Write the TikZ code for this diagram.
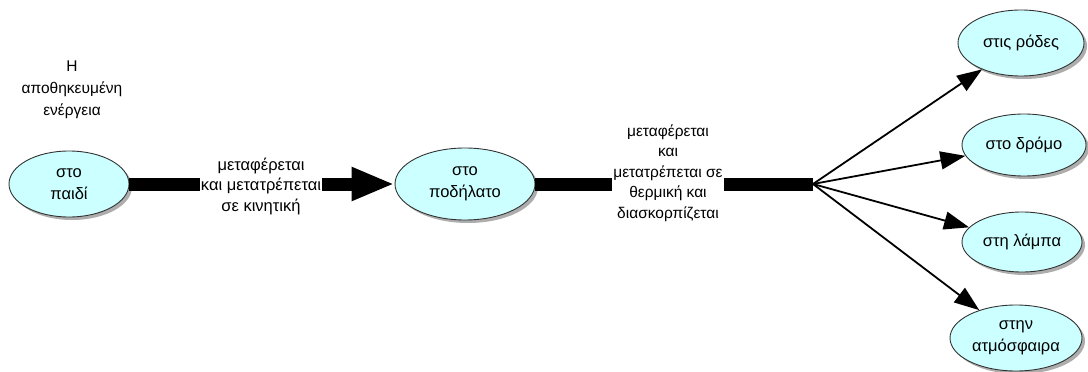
\documentclass[tikz,border=0pt]{standalone}
\usepackage{fontspec}
\setmainfont{Liberation Sans}
\usetikzlibrary{shapes.geometric,arrows.meta,shadows}
\definecolor{ellfill}{HTML}{CCFFFF}
\definecolor{ellline}{HTML}{333333}
\begin{document}
\begin{tikzpicture}[x=1pt,y=-1pt,
  ell/.style={ellipse,draw=ellline,line width=0.9pt,fill=ellfill,inner sep=0pt,
    align=center,font=\fontsize{16.5}{22}\selectfont,
    drop shadow={shadow xshift=3pt,shadow yshift=-3pt,fill=black!40,opacity=0.8}},
  lbl/.style={fill=white,inner sep=1pt,align=center,font=\fontsize{15.5}{20.5}\selectfont},
  bar/.style={line width=13pt},
  thin/.style={line width=1.8pt,-{Triangle[length=25pt,width=18pt]}}]
\useasboundingbox (0,0) rectangle (1088,372);
\node (note) at (72,90) [align=center,font=\fontsize{15.5}{22}\selectfont] {Η\\αποθηκευμένη\\ενέργεια};
\node[ell,minimum width=120pt,minimum height=66pt] (paidi) at (69,184) {στο\\παιδί};
\node[ell,minimum width=140pt,minimum height=72pt] (podilato) at (465,184) {στο\\ποδήλατο};
\node[ell,minimum width=126pt,minimum height=66pt] (rodes) at (1021,43) {στις ρόδες};
\node[ell,minimum width=124pt,minimum height=62pt] (dromo) at (1024,145) {στο δρόμο};
\node[ell,minimum width=120pt,minimum height=60pt] (lampa) at (1022,242) {στη λάμπα};
\node[ell,minimum width=132pt,minimum height=66pt] (atmo) at (1016,338) {στην\\ατμόσφαιρα};
\coordinate (junc) at (813,184);
\draw[bar,-{Triangle[length=43pt,width=31pt]}] (paidi) -- (podilato);
\draw[bar] (podilato.east) -- (junc);
\node[lbl,font=\fontsize{16.5}{20.5}\selectfont] (l1) at (261,186) {μεταφέρεται\\και μετατρέπεται\\σε κινητική};
\node[lbl] (l2) at (668,173) {μεταφέρεται\\και\\μετατρέπεται σε\\θερμική και\\διασκορπίζεται};
\draw[thin] (junc) -- (rodes);
\draw[thin] (junc) -- (dromo);
\draw[thin] (junc) -- (lampa);
\draw[thin] (junc) -- (atmo);
\end{tikzpicture}
\end{document}
